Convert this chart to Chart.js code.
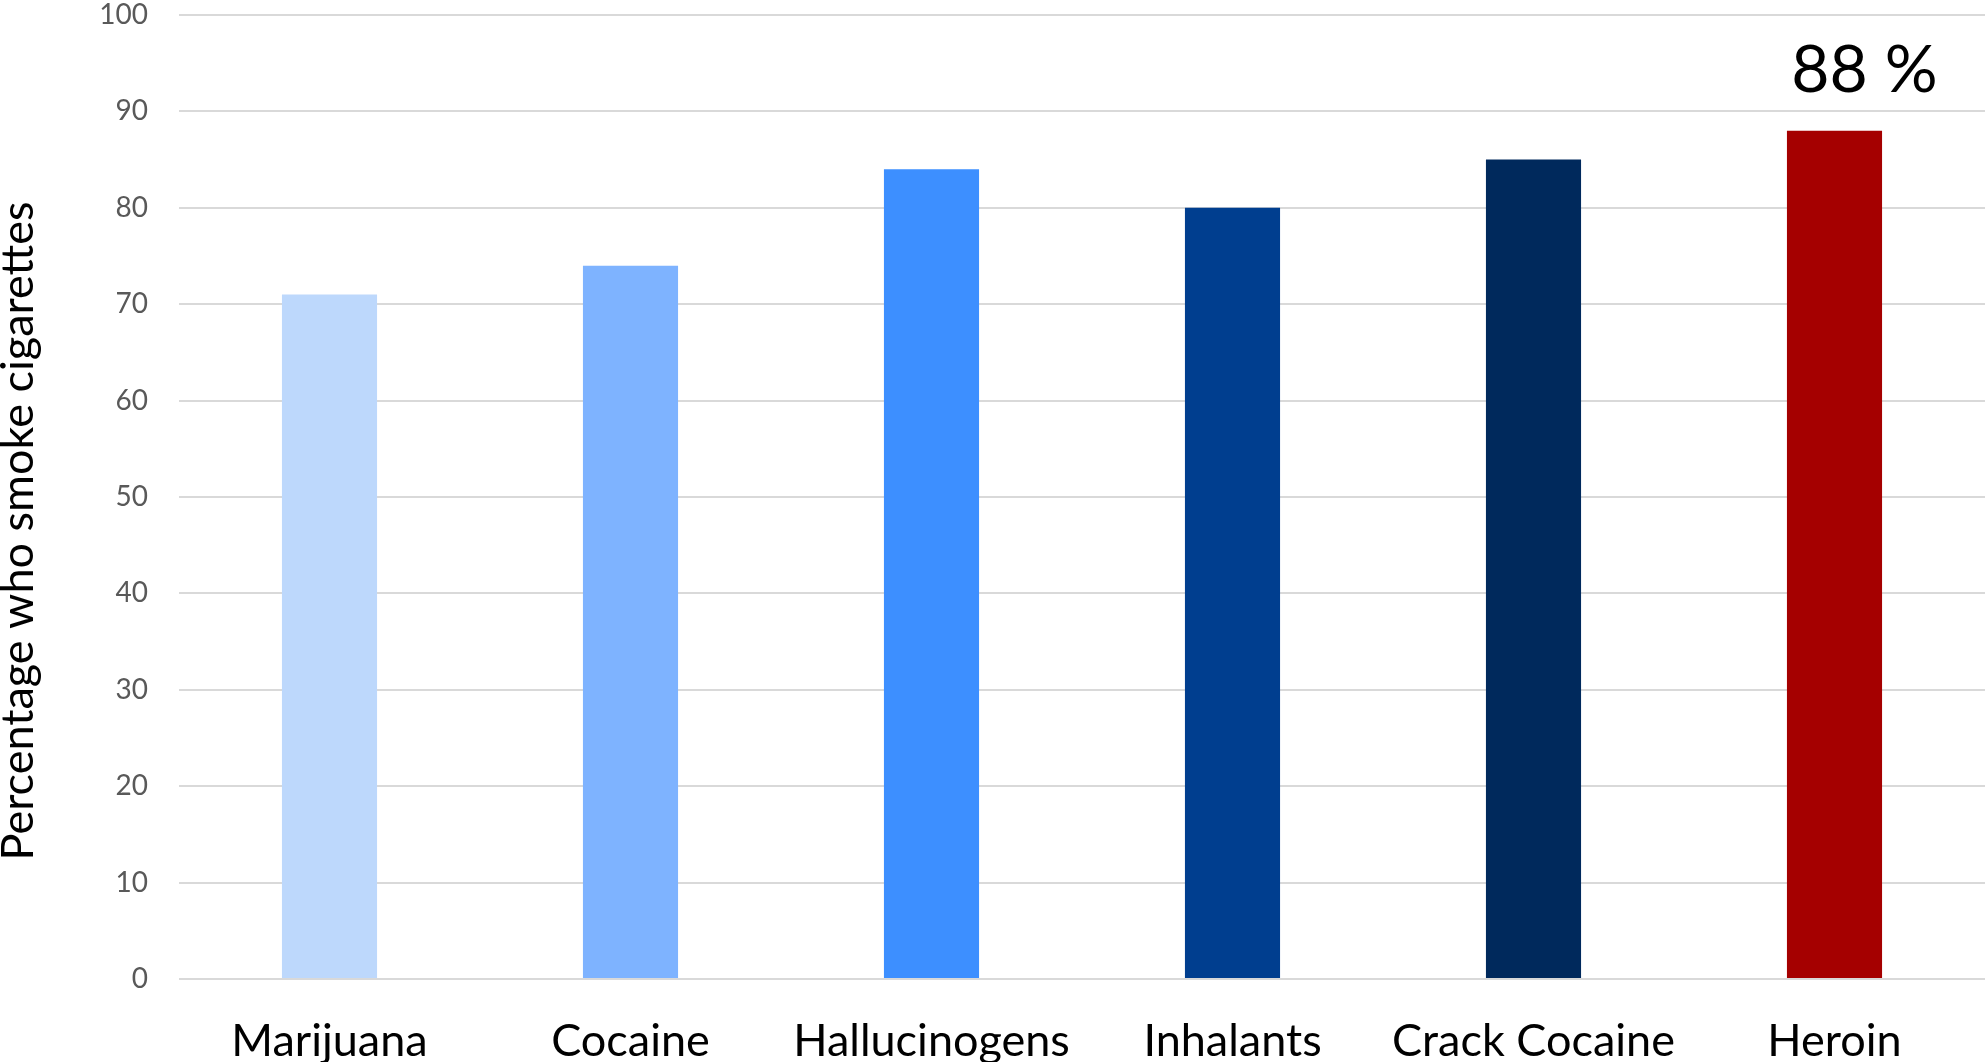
<!DOCTYPE html>
<html>
<head>
<meta charset="utf-8">
<script src="https://cdn.jsdelivr.net/npm/chart.js@4/dist/chart.umd.min.js"></script>
<style>
  html, body { margin: 0; padding: 0; background: #ffffff; overflow: hidden; }
  #wrap { width: 1988px; height: 1062px; position: relative; }
</style>
</head>
<body>
<div id="wrap"><canvas id="c" width="1988" height="1062"></canvas></div>
<script>
// Share of users of each drug who also smoke cigarettes (%)
const categories = ['Marijuana', 'Cocaine', 'Hallucinogens', 'Inhalants', 'Crack Cocaine', 'Heroin'];
const smokerPercent = [71, 74, 84, 80, 85, 88];
const barColors = ['#BDD8FC', '#7EB3FF', '#3D8FFF', '#003E8F', '#00295C', '#A50000'];
const yTickValues = [0, 10, 20, 30, 40, 50, 60, 70, 80, 90, 100];
const axisTitle = 'Percentage who smoke cigarettes';
const calloutIndex = 5;

const FONT = 'Lato, "Open Sans", "Liberation Sans", sans-serif';

// Large value label above the highlighted bar
const calloutLabel = {
  id: 'calloutLabel',
  afterDatasetsDraw(chart) {
    const bar = chart.getDatasetMeta(0).data[calloutIndex];
    const ctx = chart.ctx;
    ctx.save();
    ctx.font = '66px ' + FONT;
    ctx.fillStyle = '#000000';
    ctx.textAlign = 'center';
    ctx.textBaseline = 'alphabetic';
    ctx.fillText(smokerPercent[calloutIndex] + ' %', bar.x + 30, bar.y - 39);
    ctx.restore();
  }
};

// Vertical axis title, set a little below the plot's middle
const yAxisTitle = {
  id: 'yAxisTitle',
  afterDraw(chart) {
    const area = chart.chartArea;
    const ctx = chart.ctx;
    ctx.save();
    ctx.translate(18, (area.top + area.bottom) / 2 + 34);
    ctx.rotate(-Math.PI / 2);
    ctx.font = '45px ' + FONT;
    ctx.fillStyle = '#000000';
    ctx.textAlign = 'center';
    ctx.textBaseline = 'middle';
    ctx.fillText(axisTitle, 0, 0);
    ctx.restore();
  }
};

function clearScalePadding(scale) {
  scale.paddingTop = 0;
  scale.paddingBottom = 0;
  scale.paddingLeft = 0;
  scale.paddingRight = 0;
}

new Chart(document.getElementById('c'), {
  type: 'bar',
  data: {
    labels: categories,
    datasets: [{
      data: smokerPercent,
      backgroundColor: barColors,
      borderWidth: 0,
      barPercentage: 0.316,
      categoryPercentage: 1.0
    }]
  },
  options: {
    responsive: false,
    animation: false,
    devicePixelRatio: 1,
    layout: { padding: { top: 15, right: 3, left: 0, bottom: 0 } },
    plugins: {
      legend: { display: false },
      tooltip: { enabled: false }
    },
    scales: {
      x: {
        grid: { display: false },
        border: { display: false },
        ticks: {
          color: '#000000',
          font: { family: FONT, size: 45 },
          padding: 27,
          maxRotation: 0,
          autoSkip: false
        },
        afterFit(scale) { scale.height = 83; clearScalePadding(scale); }
      },
      y: {
        min: 0,
        max: 100,
        afterBuildTicks(scale) { scale.ticks = yTickValues.map(v => ({ value: v })); },
        grid: { color: '#D9D9D9', lineWidth: 2, drawTicks: false },
        border: { display: false },
        ticks: {
          color: '#595959',
          font: { family: FONT, size: 28 },
          padding: 31
        },
        title: { display: false },
        afterFit(scale) { scale.width = 179; clearScalePadding(scale); }
      }
    }
  },
  plugins: [calloutLabel, yAxisTitle]
});
</script>
</body>
</html>
